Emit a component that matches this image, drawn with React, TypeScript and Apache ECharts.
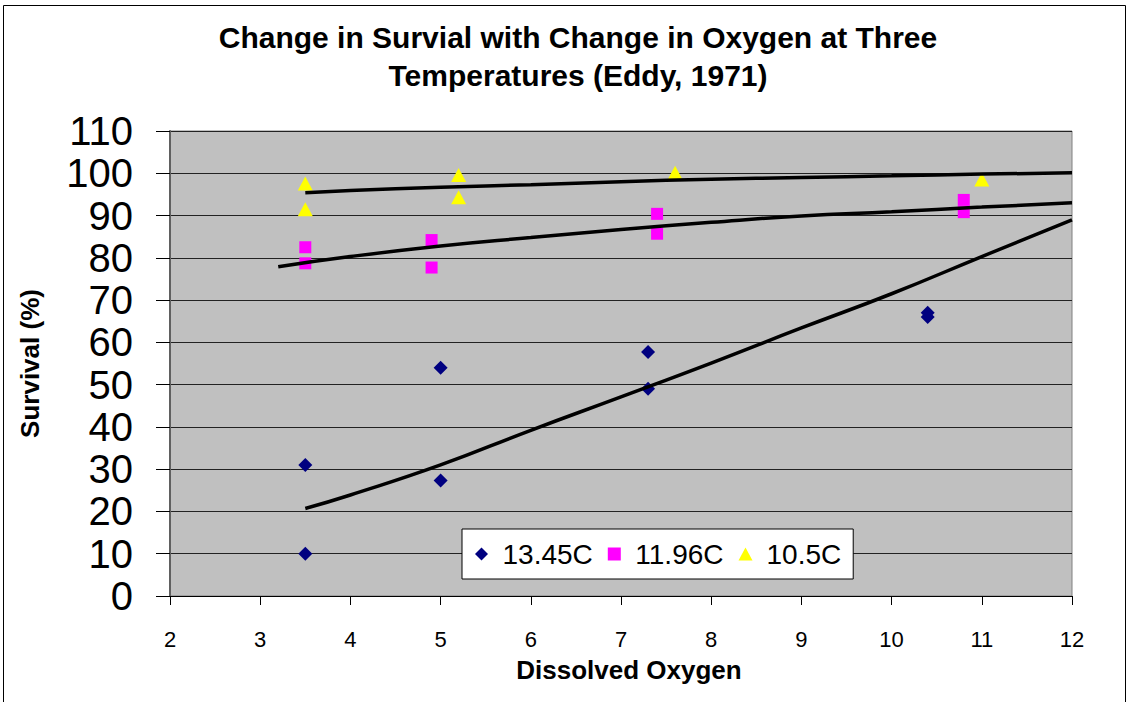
import React, { useEffect, useRef } from "react";
import * as echarts from "echarts";

// ---- data ----
const titleLines = ["Change in Survial with Change in Oxygen at Three", "Temperatures (Eddy, 1971)"];
const seriesNames = ["13.45C", "11.96C", "10.5C"];

const do1345 = [3.5, 3.5, 5, 5, 7.3, 7.3, 10.4, 10.4];
const surv1345 = [10, 31, 54, 27.3, 57.7, 49, 67, 66];
const do1196 = [3.5, 3.5, 4.9, 4.9, 7.4, 7.4, 10.8, 10.8];
const surv1196 = [82.5, 78.7, 84.2, 77.7, 90.4, 85.7, 93.7, 90.8];
const do105 = [3.5, 3.5, 5.2, 5.2, 7.6, 11];
const surv105 = [97.6, 91.5, 99.6, 94.3, 100.1, 98.5];

// trendlines
const trendX1345 = [3.5, 4, 5, 6, 7, 8, 9, 10, 11, 12];
const trendY1345 = [20.7, 23.9, 31.0, 39.2, 47.1, 55.1, 63.4, 71.5, 80.3, 89.0];
const trendX1196 = [3.2, 4, 5, 6, 7, 8, 9, 10, 11, 12];
const trendY1196 = [77.9, 80.3, 82.8, 84.8, 86.7, 88.4, 89.9, 90.9, 92.0, 93.0];
const trendX105 = [3.5, 4, 5, 6, 7, 8, 9, 10, 11, 12];
const trendY105 = [95.4, 95.9, 96.7, 97.3, 98.0, 98.6, 99.0, 99.4, 99.8, 100.1];

const xMin = 2, xMax = 12, xStep = 1;
const yMin = 0, yMax = 110, yStep = 10;

const FONT = "'Liberation Sans', Arial, Helvetica, sans-serif";

const zip = (xs: number[], ys: number[]) => xs.map((x, i) => [x, ys[i]]);

export default function App() {
  const ref = useRef<HTMLDivElement>(null);
  useEffect(() => {
    if (!ref.current) return;
    const chart = echarts.init(ref.current, null, { renderer: "svg" });
    const trendStyle = { color: "#000", width: 3.5 };
    chart.setOption({
      animation: false,
      backgroundColor: "#fff",
      title: {
        text: titleLines.join("\n"),
        left: 578,
        top: 18,
        padding: 0,
        textAlign: "center",
        textStyle: { fontFamily: FONT, fontSize: 30, fontWeight: "bold", color: "#000", lineHeight: 38 },
      },
      graphic: [
        {
          type: "polyline",
          shape: { points: [[3.5, 702], [3.5, 5.5], [1125.5, 5.5], [1125.5, 702]] },
          style: { stroke: "#000", lineWidth: 1, fill: "none" },
          silent: true,
        },
      ],
      legend: {
        data: [
          { name: seriesNames[0], icon: "path://M7,0 L14,7 L7,14 L0,7 Z" },
          { name: seriesNames[1], icon: "path://M0,0 L12,0 L12,12 L0,12 Z" },
          { name: seriesNames[2], icon: "path://M7,0 L14,13 L0,13 Z" },
        ],
        left: 462,
        top: 529,
        orient: "horizontal",
        itemWidth: 32,
        itemHeight: 13,
        itemGap: 15,
        symbolKeepAspect: true,
        padding: [11, 12, 11, 13],
        backgroundColor: "#fff",
        borderColor: "#000",
        borderWidth: 1,
        borderRadius: 0,
        selectedMode: false,
        itemStyle: { opacity: 1 },
        textStyle: { fontFamily: FONT, fontSize: 28, color: "#000", lineHeight: 28 },
      },
      grid: {
        left: 170,
        top: 131,
        right: 58,
        bottom: 106,
        show: true,
        backgroundColor: "#c0c0c0",
        borderColor: "#808080",
        borderWidth: 1,
      },
      xAxis: {
        type: "value",
        min: xMin,
        max: xMax,
        interval: xStep,
        name: "Dissolved Oxygen",
        nameLocation: "middle",
        nameGap: 61,
        nameTextStyle: { fontFamily: FONT, fontSize: 26, fontWeight: "bold", color: "#000", padding: [0, 0, 0, 16] },
        axisLine: { show: true, onZero: false, lineStyle: { color: "#000", width: 1 } },
        axisTick: { show: true, length: 9, lineStyle: { color: "#000" } },
        axisLabel: { fontFamily: FONT, fontSize: 22, color: "#000", margin: 32 },
        splitLine: { show: false },
      },
      yAxis: {
        type: "value",
        min: yMin,
        max: yMax,
        interval: yStep,
        name: "Survival (%)",
        nameLocation: "middle",
        nameRotate: 90,
        nameGap: 127,
        nameTextStyle: { fontFamily: FONT, fontSize: 26, fontWeight: "bold", color: "#000" },
        axisLine: { show: true, lineStyle: { color: "#606060", width: 2 } },
        axisTick: { show: true, length: 14, lineStyle: { color: "#000" } },
        axisLabel: { fontFamily: FONT, fontSize: 40, color: "#000", margin: 37 },
        splitLine: { show: true, lineStyle: { color: "#222", width: 1 } },
      },
      series: [
        {
          name: seriesNames[0],
          type: "scatter",
          data: zip(do1345, surv1345),
          symbol: "diamond",
          symbolSize: [14, 14],
          itemStyle: { color: "#000080", opacity: 1 },
          z: 3,
        },
        {
          name: seriesNames[1],
          type: "scatter",
          data: zip(do1196, surv1196),
          symbol: "rect",
          symbolSize: [12, 12],
          itemStyle: { color: "#ff00ff", opacity: 1 },
          z: 3,
        },
        {
          name: seriesNames[2],
          type: "scatter",
          data: zip(do105, surv105),
          symbol: "triangle",
          symbolSize: [15, 14],
          itemStyle: { color: "#ffff00", opacity: 1 },
          z: 3,
        },
        {
          name: "trend 13.45C",
          type: "line",
          data: zip(trendX1345, trendY1345),
          showSymbol: false,
          smooth: true,
          lineStyle: trendStyle,
          z: 4,
        },
        {
          name: "trend 11.96C",
          type: "line",
          data: zip(trendX1196, trendY1196),
          showSymbol: false,
          smooth: true,
          lineStyle: trendStyle,
          z: 4,
        },
        {
          name: "trend 10.5C",
          type: "line",
          data: zip(trendX105, trendY105),
          showSymbol: false,
          smooth: true,
          lineStyle: trendStyle,
          z: 4,
        },
      ],
    });
    return () => chart.dispose();
  }, []);
  return (
    <div
      ref={ref}
      style={{ position: "absolute", left: 0, top: 0, width: 1130, height: 702 }}
    />
  );
}
